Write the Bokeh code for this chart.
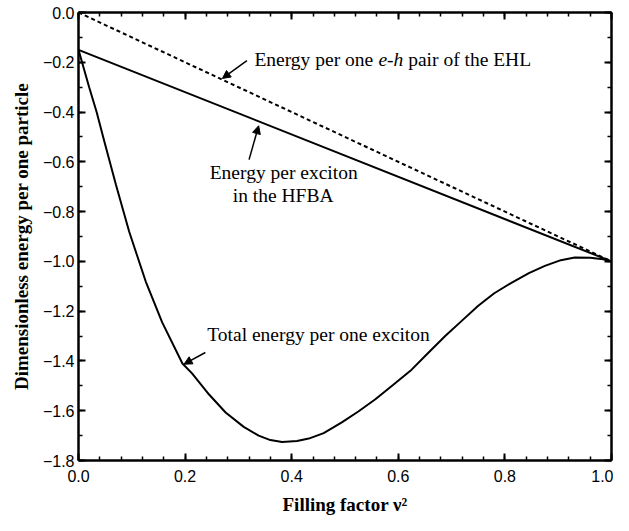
from bokeh.plotting import figure
from bokeh.models import (Range1d, LinearAxis, Arrow, NormalHead, SingleIntervalTicker,
                          CustomJSTickFormatter, Label)
from bokeh.embed import file_html
from bokeh.resources import INLINE

# ---- data ----
filling_factor = [0.0, 0.01, 0.02, 0.034, 0.05, 0.07, 0.095, 0.126, 0.157, 0.195,
                  0.213, 0.245, 0.276, 0.31, 0.338, 0.36, 0.382, 0.41, 0.432, 0.46,
                  0.494, 0.525, 0.557, 0.59, 0.625, 0.655, 0.688, 0.72, 0.75, 0.78,
                  0.813, 0.845, 0.875, 0.905, 0.931, 0.96, 0.98, 1.0]
total_energy = [-0.15, -0.225, -0.30, -0.40, -0.53, -0.69, -0.88, -1.08, -1.245, -1.41,
                -1.45, -1.535, -1.607, -1.665, -1.70, -1.718, -1.726, -1.722, -1.712, -1.69,
                -1.647, -1.603, -1.554, -1.497, -1.435, -1.37, -1.30, -1.237, -1.178, -1.128,
                -1.085, -1.047, -1.018, -0.995, -0.984, -0.985, -0.99, -1.0]
ehl_x = [0.0, 1.0]
ehl_y = [0.0, -1.0]
hfba_x = [0.0, 1.0]
hfba_y = [-0.15, -1.0]

x_label = "Filling factor ν²"
y_label = "Dimensionless energy per one particle"

SERIF = "Liberation Serif"
SANS = "Liberation Sans"
ANN_SIZE = "19.5px"

p = figure(frame_width=533, frame_height=448,
           x_range=Range1d(0, 1), y_range=Range1d(-1.8, 0),
           output_backend="svg", toolbar_location=None,
           min_border_left=78, min_border_right=2, min_border_top=12, min_border_bottom=55,
           x_axis_type=None, y_axis_type=None)
p.grid.visible = False
p.outline_line_color = None
p.background_fill_color = "white"
p.border_fill_color = "white"

fmt = CustomJSTickFormatter(code="""
    if (Math.abs(tick) < 1e-9) { return '0.0'; }
    return tick.toFixed(1).replace('-', '\u2212');
""")
empty_fmt = CustomJSTickFormatter(code="return '';")


def style_axis(ax, labelled):
    ax.axis_line_width = 2.5
    ax.axis_line_color = "black"
    ax.major_tick_in = 7
    ax.major_tick_out = 0
    ax.minor_tick_in = 4
    ax.minor_tick_out = 0
    ax.major_tick_line_width = 2
    ax.minor_tick_line_width = 1.5
    ax.major_tick_line_color = "black"
    ax.minor_tick_line_color = "black"
    if labelled:
        ax.major_label_text_font = SANS
        ax.major_label_text_font_size = "16px"
        ax.major_label_text_color = "black"
        ax.axis_label_text_font = SERIF
        ax.axis_label_text_font_style = "bold"
        ax.axis_label_text_font_size = "19px"
        ax.axis_label_text_color = "black"
    else:
        ax.major_label_text_font_size = "0px"
        ax.major_label_standoff = 0


xb = LinearAxis(ticker=SingleIntervalTicker(interval=0.2, num_minor_ticks=5), formatter=fmt,
                axis_label=x_label, major_label_standoff=9, axis_label_standoff=9)
style_axis(xb, True)
p.add_layout(xb, "below")

yl = LinearAxis(ticker=SingleIntervalTicker(interval=0.2, num_minor_ticks=2), formatter=fmt,
                axis_label=y_label, major_label_standoff=4, axis_label_standoff=8)
style_axis(yl, True)
p.add_layout(yl, "left")

xt = LinearAxis(ticker=SingleIntervalTicker(interval=0.2, num_minor_ticks=5), formatter=empty_fmt)
style_axis(xt, False)
p.add_layout(xt, "above")

yr = LinearAxis(ticker=SingleIntervalTicker(interval=0.2, num_minor_ticks=2), formatter=empty_fmt)
style_axis(yr, False)
p.add_layout(yr, "right")

# ---- curves ----
p.line(ehl_x, ehl_y, line_color="black", line_width=2, line_dash="4 3")
p.line(hfba_x, hfba_y, line_color="black", line_width=2)
p.line(filling_factor, total_energy, line_color="black", line_width=2)

# ---- annotations ----
def label(x, y, text, align="left", style="normal", x_offset=0):
    p.add_layout(Label(x=x, y=y, text=text, text_font=SERIF, text_font_size=ANN_SIZE,
                       text_font_style=style, text_align=align, text_baseline="middle",
                       text_color="black", x_offset=x_offset))

ehl_x0, ehl_y0 = 0.330, -0.189
label(ehl_x0, ehl_y0, "Energy per one")
label(ehl_x0, ehl_y0, "e-h", style="italic", x_offset=124.0)
label(ehl_x0, ehl_y0, "pair of the EHL", x_offset=153.8)

label(0.385, -0.643, "Energy per exciton", align="center")
label(0.384, -0.735, "in the HFBA", align="center")

label(0.2416, -1.2925, "Total energy per one exciton")

for (xs, ys, xe, ye) in [(0.316, -0.193, 0.270, -0.265),
                         (0.320, -0.591, 0.338, -0.455),
                         (0.238, -1.366, 0.198, -1.413)]:
    p.add_layout(Arrow(end=NormalHead(size=8, fill_color="black", line_color="black", line_width=1),
                       x_start=xs, y_start=ys, x_end=xe, y_end=ye,
                       line_color="black", line_width=1.5))

with open("out.html", "w") as f:
    f.write(file_html(p, INLINE))
